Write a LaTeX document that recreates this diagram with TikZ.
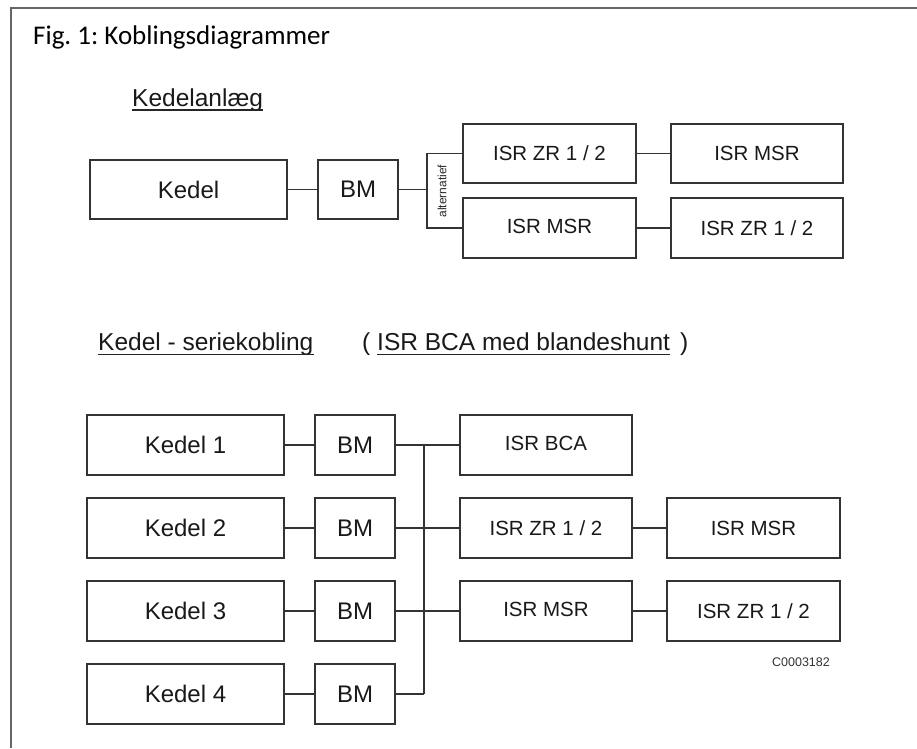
\documentclass[tikz,border=0pt]{standalone}
\usepackage{fontspec}
\setmainfont{Liberation Sans}
\newfontfamily\carlito{Carlito}
\frenchspacing
\begin{document}
\begin{tikzpicture}[x=1pt,y=-1pt,
  box/.style={draw=black!80, line width=1.8pt, fill=white, inner sep=0pt, text=black!90},
  kbox/.style={box, minimum width=197pt, minimum height=59pt, font=\fontsize{24}{28}\selectfont},
  bmbox/.style={box, minimum width=80pt, minimum height=59pt, font=\fontsize{24}{28}\selectfont},
  isrbox/.style={box, minimum width=173pt, minimum height=59pt, font=\fontsize{20.5}{24}\selectfont},
  wire/.style={draw=black!80, line width=1.6pt},
  frame/.style={draw=black!60, line width=1.8pt},
  head/.style={inner sep=0pt, anchor=base west, text=black!90, font=\fontsize{24.5}{29}\selectfont},
  uline/.style={draw=black!85, line width=1.3pt}
]
\useasboundingbox (0,0) rectangle (917,748);
% frame
\coordinate (fTL) at (11,8);
\coordinate (fTR) at (917,8);
\coordinate (fBL) at (11,748);
\draw[frame] (fTR) -- (fTL) -- (fBL);

% title
\node[inner sep=0pt, anchor=base west, text=black, font=\carlito\fontsize{27}{32}\selectfont] (title) at (33,44) {Fig. 1: Koblingsdiagrammer};

% heading 1
\node[head] (h1) at (132,106) {Kedelanlæg};
\draw[uline] ([yshift=-4pt]h1.base west) -- ([yshift=-4pt]h1.base east);

% upper diagram
\node[kbox] (K0) at (188.5,189.5) {Kedel};
\node[bmbox] (B0) at (358,189.5) {\raisebox{-2pt}{BM}};
\node[isrbox] (ZRa) at (549.5,153.5) {ISR ZR 1 / 2};
\node[isrbox, minimum width=172pt] (MSRa) at (757,153.5) {ISR MSR};
\node[isrbox, minimum height=60pt] (MSRb) at (549.5,228) {\raisebox{3pt}{ISR MSR}};
\node[isrbox, minimum width=172pt, minimum height=60pt] (ZRb) at (757,228) {ISR ZR 1 / 2};
\coordinate (brx) at (427,0);
\draw[wire] (K0.east) -- (B0.west);
\draw[wire] (B0.east) -- (B0.east -| brx);
\draw[wire] (ZRa.west) -- (ZRa.west -| brx) -- (MSRb.west -| brx) -- (MSRb.west);
\draw[wire] (ZRa.east) -- (MSRa.west);
\draw[wire] (MSRb.east) -- (ZRb.west);
\node[rotate=90, inner sep=0pt, text=black!85, font=\fontsize{12}{14}\selectfont] (alt) at (442,191) {alternatief};

% heading 2
\node[head] (h2) at (98,350) {Kedel - seriekobling};
\draw[uline] ([yshift=-4.5pt]h2.base west) -- ([yshift=-4.5pt]h2.base east);
\node[head] (h3a) at (362,350) {(};
\node[head] (h3) at (377,350) {ISR BCA med blandeshunt};
\draw[uline] ([yshift=-4.5pt]h3.base west) -- ([yshift=-4.5pt]h3.base east);
\node[head] (h3b) at (680,350) {)};

% lower diagram
\foreach \i/\y in {1/445,2/528,3/611,4/694}{
  \node[kbox, minimum height=60pt] (K\i) at (185.5,\y) {Kedel \i};
  \node[bmbox, minimum height=60pt] (B\i) at (355,\y) {BM};
  \draw[wire] (K\i.east) -- (B\i.west);
}
\node[isrbox, minimum width=172pt, minimum height=60pt] (BCA) at (546,445) {\raisebox{4pt}{ISR BCA}};
\node[isrbox, minimum width=172pt, minimum height=60pt] (ZR2) at (546,528) {ISR ZR 1 / 2};
\node[isrbox, minimum width=172pt, minimum height=60pt] (MSR3) at (546,611) {\raisebox{4pt}{ISR MSR}};
\node[isrbox, minimum height=60pt] (MSR2) at (753.5,528) {ISR MSR};
\node[isrbox, minimum height=60pt] (ZR3) at (753.5,611) {ISR ZR 1 / 2};
\coordinate (bus) at (424,0);
\draw[wire] (B1.east -| bus) -- (B4.east -| bus);
\draw[wire] (B1.east) -- (BCA.west);
\draw[wire] (B2.east) -- (ZR2.west);
\draw[wire] (B3.east) -- (MSR3.west);
\draw[wire] (B4.east) -- (B4.east -| bus);
\draw[wire] (ZR2.east) -- (MSR2.west);
\draw[wire] (MSR3.east) -- (ZR3.west);
\node[inner sep=0pt, text=black!80, font=\fontsize{12.5}{15}\selectfont] (code) at (801,662) {C0003182};
\end{tikzpicture}
\end{document}
